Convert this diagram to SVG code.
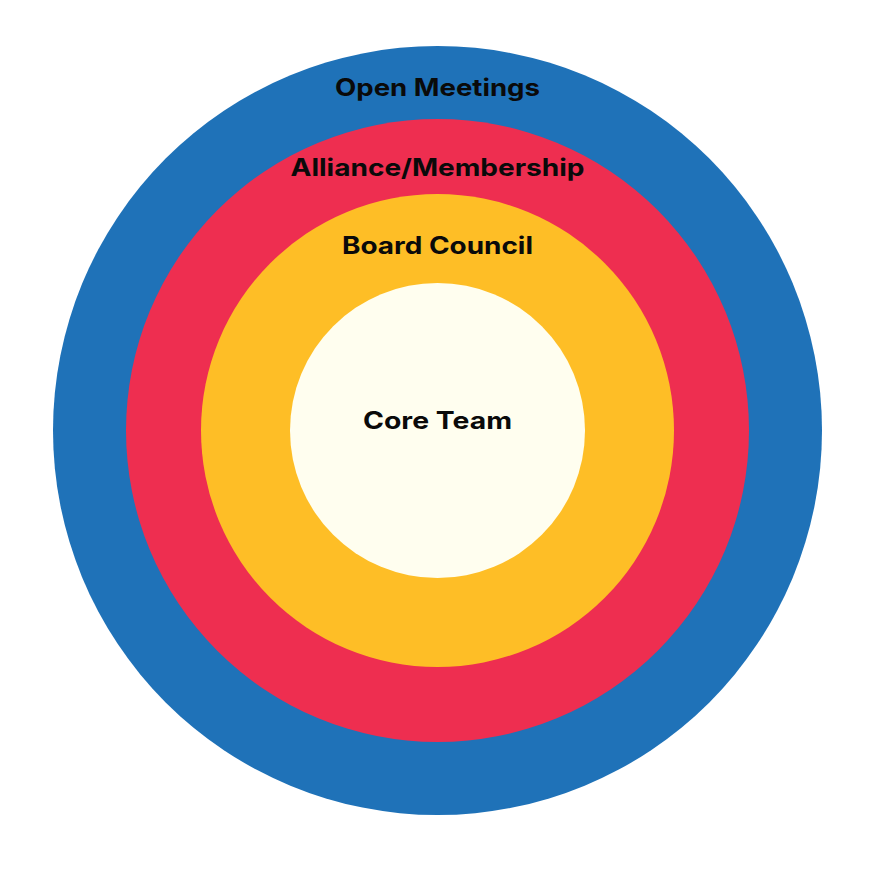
<svg xmlns="http://www.w3.org/2000/svg" width="875" height="875" viewBox="0 0 875 875">
<style>
.lbl{font-family:"Inter","Noto Sans","Liberation Sans",sans-serif;font-weight:700;font-size:24px;fill:#0a0a0a;text-anchor:middle}
</style>
<rect width="875" height="875" fill="#ffffff"/>
<g id="open-meetings">
<circle cx="437.5" cy="430.5" r="384.5" fill="#1F72B8"/>
<text class="lbl" x="437.5" y="96" textLength="205" lengthAdjust="spacingAndGlyphs">Open Meetings</text>
</g>
<g id="alliance-membership">
<circle cx="437.5" cy="430.5" r="311.5" fill="#EE2E50"/>
<text class="lbl" x="437.5" y="176" textLength="294" lengthAdjust="spacingAndGlyphs">Alliance/Membership</text>
</g>
<g id="board-council">
<circle cx="437.5" cy="430.5" r="236.5" fill="#FEBE26"/>
<text class="lbl" x="437.5" y="254" textLength="191" lengthAdjust="spacingAndGlyphs">Board Council</text>
</g>
<g id="core-team">
<circle cx="437.5" cy="430.5" r="147.5" fill="#FFFEEF"/>
<text class="lbl" x="437.5" y="429" textLength="149" lengthAdjust="spacingAndGlyphs">Core Team</text>
</g>
<g id="connectors"/>
</svg>
